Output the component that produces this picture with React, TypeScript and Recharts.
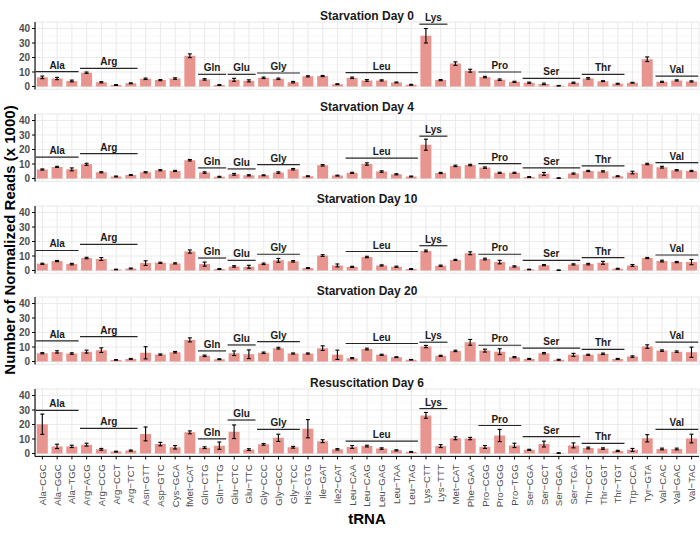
import { BarChart, Bar, XAxis, YAxis, CartesianGrid, ErrorBar, ReferenceLine } from "recharts";

const trnas = [
  "Ala-CGC", "Ala-GGC", "Ala-TGC", "Arg-ACG", "Arg-CCG", "Arg-CCT", "Arg-TCT", "Asn-GTT", "Asp-GTC",
  "Cys-GCA", "fMet-CAT", "Gln-CTG", "Gln-TTG", "Glu-CTC", "Glu-TTC", "Gly-CCC", "Gly-GCC", "Gly-TCC",
  "His-GTG", "Ile-GAT", "Ile2-CAT", "Leu-CAA", "Leu-CAG", "Leu-GAG", "Leu-TAA", "Leu-TAG", "Lys-CTT",
  "Lys-TTT", "Met-CAT", "Phe-GAA", "Pro-CGG", "Pro-GGG", "Pro-TGG", "Ser-CGA", "Ser-GCT", "Ser-GGA",
  "Ser-TGA", "Thr-CGT", "Thr-GGT", "Thr-TGT", "Trp-CCA", "Tyr-GTA", "Val-CAC", "Val-GAC", "Val-TAC",
];

const panelTitles = ["Starvation Day 0", "Starvation Day 4", "Starvation Day 10", "Starvation Day 20", "Resuscitation Day 6"];

// mean reads (x 1000) and error per tRNA, one pair per facet
const day0Mean = [6.3, 5.5, 3.8, 9.5, 2.9, 1.0, 2.2, 5.3, 4.4, 5.5, 21.2, 4.9, 1.0, 4.6, 3.9, 6.0, 5.3, 3.0, 7.0, 7.2, 1.6, 6.0, 4.2, 4.2, 2.8, 1.2, 35.0, 4.4, 15.8, 10.9, 6.5, 4.7, 3.2, 2.6, 1.8, 0.5, 2.6, 5.6, 3.7, 1.9, 2.6, 18.8, 3.2, 4.2, 3.5];
const day0Err = [0.9, 0.8, 0.6, 0.5, 0.4, 0.3, 0.3, 0.5, 0.4, 0.5, 1.3, 0.5, 0.3, 1.0, 0.7, 0.5, 0.5, 0.5, 0.4, 0.4, 0.3, 0.5, 0.6, 0.4, 0.3, 0.3, 5.0, 0.4, 1.2, 1.0, 0.5, 0.5, 0.4, 0.4, 0.5, 0.2, 0.4, 0.5, 0.3, 0.3, 0.3, 1.6, 0.4, 0.4, 0.4];

const day4Mean = [6.2, 8.0, 6.3, 9.8, 4.3, 1.4, 2.4, 4.3, 5.7, 5.2, 12.6, 4.1, 1.2, 2.9, 2.2, 2.2, 4.1, 6.4, 1.6, 9.1, 2.0, 3.9, 10.0, 4.8, 2.9, 1.4, 23.3, 3.8, 8.7, 9.3, 7.5, 3.9, 3.9, 1.0, 3.2, 0.3, 3.4, 5.2, 4.9, 1.6, 4.1, 10.0, 7.8, 5.7, 5.2];
const day4Err = [0.4, 0.4, 1.0, 0.7, 0.4, 0.3, 0.3, 0.4, 0.4, 0.4, 0.5, 0.5, 0.3, 0.6, 0.4, 0.3, 0.5, 0.5, 0.3, 0.5, 0.3, 0.4, 0.8, 0.5, 0.4, 0.3, 3.8, 0.4, 0.5, 0.5, 0.5, 0.4, 0.4, 0.3, 1.0, 0.2, 0.4, 0.4, 0.4, 0.3, 0.9, 0.5, 0.6, 0.4, 0.4];

const day10Mean = [4.6, 6.5, 4.4, 8.6, 7.9, 0.7, 1.4, 5.1, 5.3, 4.9, 13.1, 4.4, 1.0, 2.8, 2.6, 4.6, 7.0, 6.3, 1.7, 10.3, 3.5, 2.5, 9.3, 3.5, 2.6, 1.0, 13.5, 3.3, 7.3, 11.9, 7.9, 5.8, 2.8, 0.7, 3.7, 0.2, 4.2, 4.4, 5.3, 1.2, 3.5, 8.6, 6.5, 5.8, 5.8];
const day10Err = [0.4, 0.4, 0.5, 0.5, 1.0, 0.2, 0.3, 1.6, 0.4, 0.4, 1.1, 1.4, 0.3, 0.5, 1.0, 0.5, 1.3, 0.5, 0.3, 0.6, 1.0, 0.4, 0.5, 0.4, 0.4, 0.3, 0.6, 0.4, 0.4, 1.0, 0.6, 1.2, 0.4, 0.2, 0.4, 0.2, 0.4, 0.5, 1.0, 0.3, 0.6, 0.4, 0.6, 0.4, 1.8];

const day20Mean = [5.7, 6.6, 5.5, 6.8, 7.8, 1.1, 1.8, 6.0, 4.8, 6.4, 14.9, 3.9, 1.6, 5.7, 5.0, 6.0, 9.2, 5.5, 5.5, 9.2, 4.6, 2.3, 8.6, 4.6, 3.0, 1.2, 10.3, 3.9, 7.3, 13.2, 7.5, 6.8, 3.0, 1.8, 5.7, 1.2, 4.6, 4.6, 5.3, 1.8, 3.4, 10.3, 7.5, 6.8, 6.4];
const day20Err = [0.4, 0.8, 0.5, 1.0, 1.6, 0.2, 0.3, 4.2, 0.4, 0.5, 1.4, 0.5, 0.3, 1.6, 3.0, 0.5, 0.6, 0.4, 0.4, 1.6, 3.2, 0.4, 0.6, 0.4, 0.3, 0.2, 0.8, 0.4, 0.5, 2.0, 1.0, 2.0, 0.4, 0.3, 0.5, 0.3, 1.0, 0.4, 0.5, 0.3, 0.5, 1.2, 0.5, 0.5, 3.5];

const resus6Mean = [20.2, 4.9, 4.9, 6.1, 2.9, 1.3, 2.0, 13.5, 6.5, 4.3, 14.6, 4.0, 5.4, 15.0, 2.7, 6.3, 10.8, 4.3, 17.1, 8.5, 2.9, 4.5, 5.1, 3.4, 2.2, 1.1, 26.3, 5.1, 10.5, 10.3, 4.5, 12.4, 5.6, 2.5, 6.5, 0.3, 5.6, 3.8, 3.4, 1.8, 2.5, 10.5, 3.1, 3.1, 10.3];
const resus6Err = [7.0, 1.5, 0.8, 1.0, 0.6, 0.3, 0.4, 4.8, 1.2, 1.2, 1.0, 0.6, 2.5, 4.7, 0.6, 0.6, 2.5, 0.6, 6.3, 1.0, 0.5, 1.0, 0.6, 0.5, 0.4, 0.3, 2.0, 1.0, 1.0, 0.8, 1.0, 4.2, 1.5, 0.4, 2.0, 0.2, 1.7, 0.6, 0.5, 0.4, 1.0, 2.5, 0.6, 0.6, 3.0];

// amino acid brackets and their heights per facet
const aminoGroups = ["Ala", "Arg", "Gln", "Glu", "Gly", "Leu", "Lys", "Pro", "Ser", "Thr", "Val"];
const day0Bracket = [10.2, 12.5, 8.4, 8.4, 9.3, 9.5, 43.0, 10.0, 5.6, 8.4, 7.2];
const day4Bracket = [14.8, 17.1, 7.3, 6.6, 9.6, 14.1, 29.2, 10.3, 7.3, 8.7, 11.0];
const day10Bracket = [13.8, 18.0, 8.6, 7.0, 11.2, 13.1, 17.1, 11.2, 7.0, 8.9, 10.7];
const day20Bracket = [14.2, 17.1, 7.3, 11.4, 13.7, 12.4, 13.3, 11.2, 9.2, 8.4, 13.3];
const resus6Bracket = [29.7, 17.3, 10.1, 23.1, 16.6, 8.5, 31.0, 19.3, 11.7, 7.0, 16.6];

const yTicks = [0, 10, 20, 30, 40];
const yMinorTicks = [5, 15, 25, 35];

const means = [day0Mean, day4Mean, day10Mean, day20Mean, resus6Mean];
const errs = [day0Err, day4Err, day10Err, day20Err, resus6Err];
const brackets = [day0Bracket, day4Bracket, day10Bracket, day20Bracket, resus6Bracket];

const FONT = '"Liberation Sans", Arial, Helvetica, sans-serif';
const PANEL_STEP = 91.75;
const PANEL_TOP = 22;
const PLOT_H = 67.4;
const PANEL_BOTTOM = 5;
const XAXIS_H = 58;

const XTick = ({ x, y, payload }: any) => (
  <text
    x={x}
    y={y}
    transform={`rotate(-90 ${x} ${y})`}
    textAnchor="end"
    dominantBaseline="central"
    fontSize={9.6}
    fontFamily={FONT}
    fill="#4D4D4D"
  >
    {String(payload.value).replace("-", "\u2212")}
  </text>
);

const bracketShape = (label: string, n: number) => (p: any) => {
  const half = ((p.x2 - p.x1) / (n - 1)) * 0.45;
  return (
    <g>
      <line x1={p.x1 - half} x2={p.x2 + half} y1={p.y1} y2={p.y2} stroke="#262626" strokeWidth={1.2} />
      <text x={(p.x1 + p.x2) / 2} y={p.y1 - 3} textAnchor="middle" fontSize={10} fontWeight={700} fontFamily={FONT} fill="#1A1A1A">
        {label}
      </text>
    </g>
  );
};

function Panel({ k }: { k: number }) {
  const last = k === panelTitles.length - 1;
  const data = trnas.map((name, i) => ({ name, mean: means[k][i], err: errs[k][i] }));
  const bottom = last ? 0 : PANEL_BOTTOM;
  return (
    <div style={{ position: "absolute", left: 0, top: k * PANEL_STEP }}>
      <BarChart
        width={700}
        height={PANEL_TOP + PLOT_H + bottom + (last ? XAXIS_H : 0)}
        data={data}
        margin={{ top: PANEL_TOP, right: 1, bottom, left: 0 }}
        barCategoryGap="12%"
      >
        <CartesianGrid yAxisId="minor" vertical={false} stroke="#F2F2F2" strokeWidth={0.6} />
        <CartesianGrid stroke="#EBEBEB" strokeWidth={1.1} />
        <XAxis
          dataKey="name"
          interval={0}
          hide={!last}
          height={last ? XAXIS_H : 0}
          tick={<XTick />}
          tickSize={3}
          tickMargin={5}
          tickLine={{ stroke: "#000" }}
          axisLine={{ stroke: "#000" }}
        />
        <YAxis
          domain={[-2, 44.5]}
          allowDataOverflow
          ticks={yTicks}
          interval={0}
          width={35}
          tickSize={3}
          tickMargin={2}
          tick={{ fontSize: 10, fontWeight: 700, fill: "#4D4D4D", fontFamily: FONT }}
          tickLine={{ stroke: "#000" }}
          axisLine={{ stroke: "#000", strokeWidth: 1.1 }}
        />
        <YAxis yAxisId="minor" hide domain={[-2, 44.5]} allowDataOverflow ticks={yMinorTicks} interval={0} />
        <Bar dataKey="mean" fill="#E8958F" isAnimationActive={false}>
          <ErrorBar dataKey="err" width={2} stroke="#000" strokeWidth={1.1} direction="y" />
        </Bar>
        {aminoGroups.map((g, gi) => {
          const members = trnas.filter((t) => t.startsWith(g + "-"));
          return (
            <ReferenceLine
              key={g}
              ifOverflow="visible"
              segment={[
                { x: members[0], y: brackets[k][gi] },
                { x: members[members.length - 1], y: brackets[k][gi] },
              ]}
              shape={bracketShape(g, members.length)}
            />
          );
        })}
      </BarChart>
    </div>
  );
}

export default function App() {
  return (
    <div style={{ position: "absolute", left: 0, top: 0, width: 700, height: 533, background: "#fff" }}>
      {panelTitles.map((_, k) => (
        <Panel key={k} k={k} />
      ))}
      <svg width={700} height={533} style={{ position: "absolute", left: 0, top: 0, pointerEvents: "none" }}>
        {panelTitles.map((t, k) => (
          <text key={t} x={367} y={k * PANEL_STEP + PANEL_TOP - 2.5} textAnchor="middle" fontSize={12} fontWeight={700} fontFamily={FONT} fill="#1A1A1A">
            {t}
          </text>
        ))}
        <text
          x={9}
          y={240}
          transform="rotate(-90 9 240)"
          textAnchor="middle"
          dominantBaseline="central"
          fontSize={15}
          fontWeight={700}
          fontFamily={FONT}
          fill="#000"
        >
          Number of Normalized Reads (x 1000)
        </text>
        <text x={367} y={518} textAnchor="middle" dominantBaseline="central" fontSize={15} fontWeight={700} fontFamily={FONT} fill="#000">
          tRNA
        </text>
      </svg>
    </div>
  );
}
